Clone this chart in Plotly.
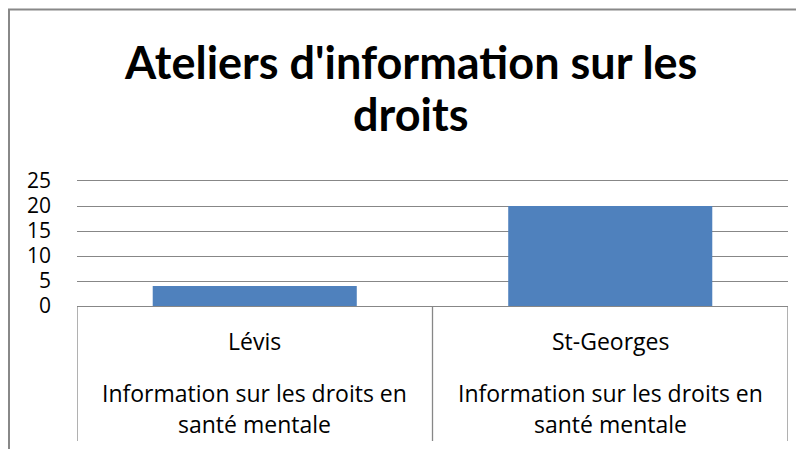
import plotly.graph_objects as go

categories = ["Lévis", "St-Georges"]
group_labels = ["Information sur les droits en<br>santé mentale", "Information sur les droits en<br>santé mentale"]
values = [4, 20]
y_ticks = [0, 5, 10, 15, 20, 25]
title_lines = ["Ateliers d'information sur les", "droits"]

BODY = "'Open Sans', sans-serif"
TITLE = "Lato, sans-serif"
GRID = "#878787"

OFF = 8  # page body margin
W, H = 804, 449
L, T = 77 - OFF, 181 - OFF
pw, ph = 711, 125
R, B = W - L - pw, H - T - ph

def px(xs):
    return (xs - OFF - L) / pw

def py(ys):
    return (H - B - (ys - OFF)) / ph

fig = go.Figure()
fig.add_trace(go.Bar(x=[0, 1], y=values, marker=dict(color="#4F81BD", line=dict(width=0)),
                     width=0.574, hoverinfo="skip"))

shapes = []
for xv in [-0.5, 0.5, 1.5]:
    shapes.append(dict(type="line", xref="x", yref="paper", x0=xv, x1=xv,
                       y0=0, y1=py(441), line=dict(color=GRID, width=1.3)))
# outer frame (left and top)
shapes.append(dict(type="line", xref="paper", yref="paper", x0=px(9), x1=px(9),
                   y0=py(9), y1=py(460), line=dict(color="#888888", width=2)))
shapes.append(dict(type="line", xref="paper", yref="paper", x0=px(8), x1=px(820),
                   y0=py(9.5), y1=py(9.5), line=dict(color="#888888", width=2)))

annotations = []
for i, g in enumerate(group_labels):
    for j, line in enumerate(g.split("<br>")):
        annotations.append(dict(x=i, xref="x", y=py(393 + 31 * j), yref="paper", text=line,
                                showarrow=False, font=dict(family=BODY, size=23, color="#000"),
                                xanchor="center", yanchor="middle"))
for i, c in enumerate(categories):
    annotations.append(dict(x=i, xref="x", y=py(341), yref="paper", text=c, showarrow=False,
                            font=dict(family=BODY, size=23, color="#000"),
                            xanchor="center", yanchor="middle"))
for j, line in enumerate(title_lines):
    annotations.append(dict(x=px(410), xref="paper", y=py(62 + 52 * j), yref="paper", text=line,
                            showarrow=False,
                            font=dict(family=TITLE, size=45, color="#000", weight="bold"),
                            xanchor="center", yanchor="middle"))

fig.update_layout(
    width=W, height=H,
    margin=dict(l=L, r=R, t=T, b=B, autoexpand=False),
    paper_bgcolor="white", plot_bgcolor="white",
    showlegend=False,
    shapes=shapes,
    annotations=annotations,
    xaxis=dict(range=[-0.5, 1.5], showticklabels=False, showgrid=False, zeroline=False,
               showline=True, mirror=True, linecolor=GRID, linewidth=1.3, ticks=""),
    yaxis=dict(range=[0, 25], tickvals=y_ticks, showgrid=True, gridcolor=GRID, gridwidth=1.3,
               zeroline=False, showline=False, ticks="", ticklabelstandoff=25,
               tickfont=dict(family=BODY, size=21, color="#000")),
)

fig.write_html("out.html")
